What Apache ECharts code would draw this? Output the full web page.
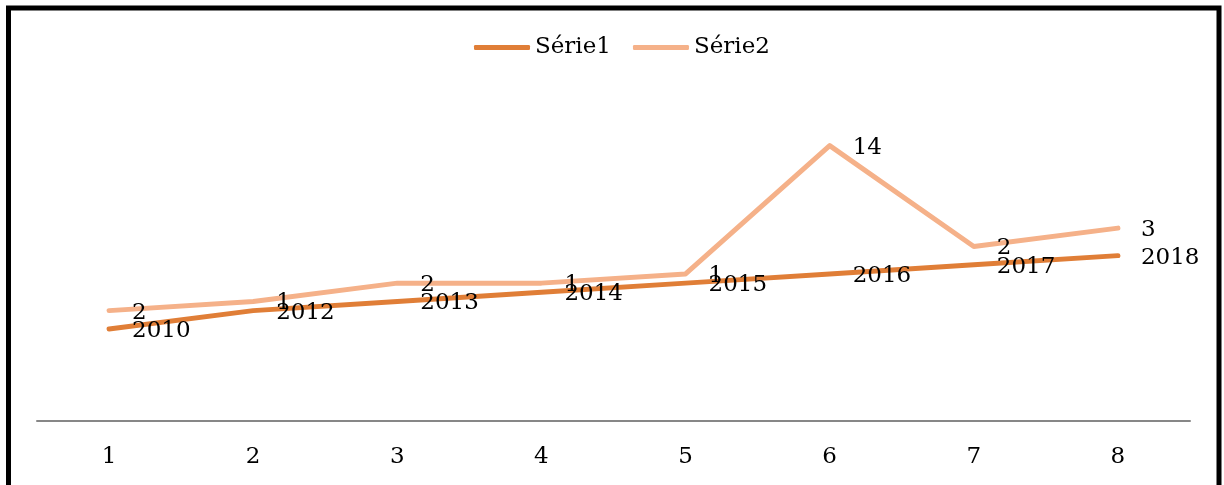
<!DOCTYPE html>
<html>
<head>
<meta charset="utf-8">
<script src="https://cdn.jsdelivr.net/npm/echarts@6/dist/echarts.min.js"></script>
<style>
  html, body { margin: 0; padding: 0; background: #fff; }
  #chart { width: 1224px; height: 485px; }
</style>
</head>
<body>
<div id="chart"></div>
<script>
// data
const categories = ["1", "2", "3", "4", "5", "6", "7", "8"];
const serie1 = [2010, 2012, 2013, 2014, 2015, 2016, 2017, 2018];
const serie2 = [2, 1, 2, 1, 1, 14, 2, 3];

const COLOR1 = "#E07E37";
const COLOR2 = "#F5B189";
const FONT = "DejaVu Serif";

const myChart = echarts.init(document.getElementById("chart"));

const labelStyle = {
  show: true,
  position: "right",
  distance: 22,
  offset: [0, 2],
  color: "#000",
  fontFamily: FONT,
  fontSize: 23,
};

const option = {
  animation: false,
  textStyle: { fontFamily: FONT },
  graphic: [
    {
      type: "rect",
      shape: { x: 8.5, y: 8, width: 1210.5, height: 500 },
      style: { fill: "none", stroke: "#000", lineWidth: 5 },
      silent: true,
    },
  ],
  legend: {
    left: 474,
    top: 36,
    padding: 0,
    itemWidth: 56,
    itemHeight: 5,
    itemGap: 22,
    icon: "roundRect",
    textStyle: { fontFamily: FONT, fontSize: 23, color: "#000" },
    data: ["Série1", "Série2"],
  },
  grid: { left: 37, right: 34, top: 54, height: 366.6 },
  xAxis: {
    type: "category",
    data: categories,
    boundaryGap: true,
    axisLine: { lineStyle: { color: "#878787", width: 2 } },
    axisTick: { show: false },
    axisLabel: { color: "#000", fontFamily: FONT, fontSize: 23, margin: 25 },
  },
  yAxis: {
    type: "value",
    min: 2000,
    max: 2040,
    show: false,
    splitLine: { show: false },
  },
  series: [
    {
      name: "Série1",
      type: "line",
      stack: "total",
      data: serie1,
      symbol: "circle",
      symbolSize: 2,
      color: COLOR1,
      lineStyle: { width: 5, color: COLOR1, cap: "round", join: "round" },
      label: labelStyle,
      emphasis: { disabled: true },
    },
    {
      name: "Série2",
      type: "line",
      stack: "total",
      data: serie2,
      symbol: "circle",
      symbolSize: 2,
      color: COLOR2,
      lineStyle: { width: 5, color: COLOR2, cap: "round", join: "round" },
      label: labelStyle,
      emphasis: { disabled: true },
    },
  ],
};

myChart.setOption(option);
</script>
</body>
</html>
